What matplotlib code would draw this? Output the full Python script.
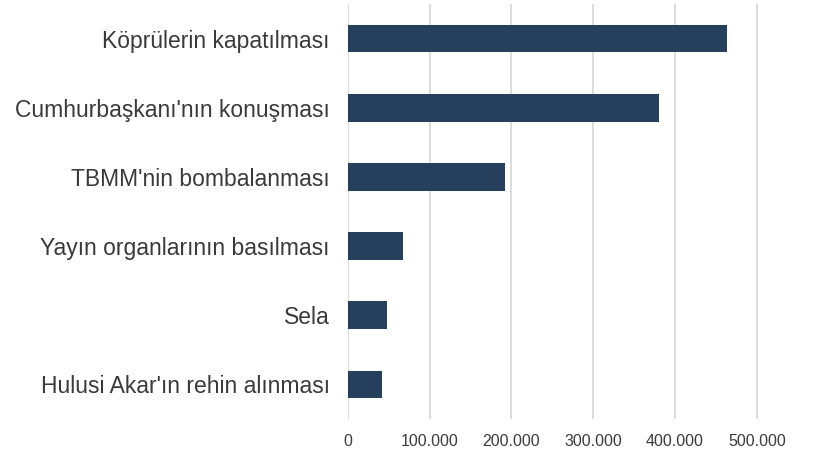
import matplotlib.pyplot as plt
from matplotlib.ticker import FuncFormatter

categories = [
    "Köprülerin kapatılması",
    "Cumhurbaşkanı'nın konuşması",
    "TBMM'nin bombalanması",
    "Yayın organlarının basılması",
    "Sela",
    "Hulusi Akar'ın rehin alınması",
]
values = [463000, 380000, 192000, 67000, 48000, 42000]
xticks = [0, 100000, 200000, 300000, 400000, 500000]

plt.rcParams['font.family'] = ['Liberation Sans', 'DejaVu Sans']

fig = plt.figure(figsize=(8.14, 4.57), dpi=100)
ax = fig.add_axes([0.4272, 0.0832, 0.5628, 0.908])

ypos = list(range(len(categories)))
ax.barh(ypos, values, height=0.4, color='#263f5c', zorder=3)

ax.set_ylim(len(categories) - 0.5, -0.5)
ax.set_xlim(0, 560000)
ax.set_yticks(ypos)
ax.set_yticklabels(categories, fontsize=16.5, color='#3a3a3a')
ax.set_xticks(xticks)
ax.xaxis.set_major_formatter(FuncFormatter(lambda v, p: f"{int(v):,}".replace(",", ".")))
ax.tick_params(axis='x', labelsize=11.5, colors='#3a3a3a', length=0, pad=11)
ax.tick_params(axis='y', length=0, pad=13)

ax.grid(axis='x', color='#d9d9d9', linewidth=1.3, zorder=0)
for s in ['top', 'right', 'bottom', 'left']:
    ax.spines[s].set_visible(False)

fig.savefig('out.png', dpi=100)
